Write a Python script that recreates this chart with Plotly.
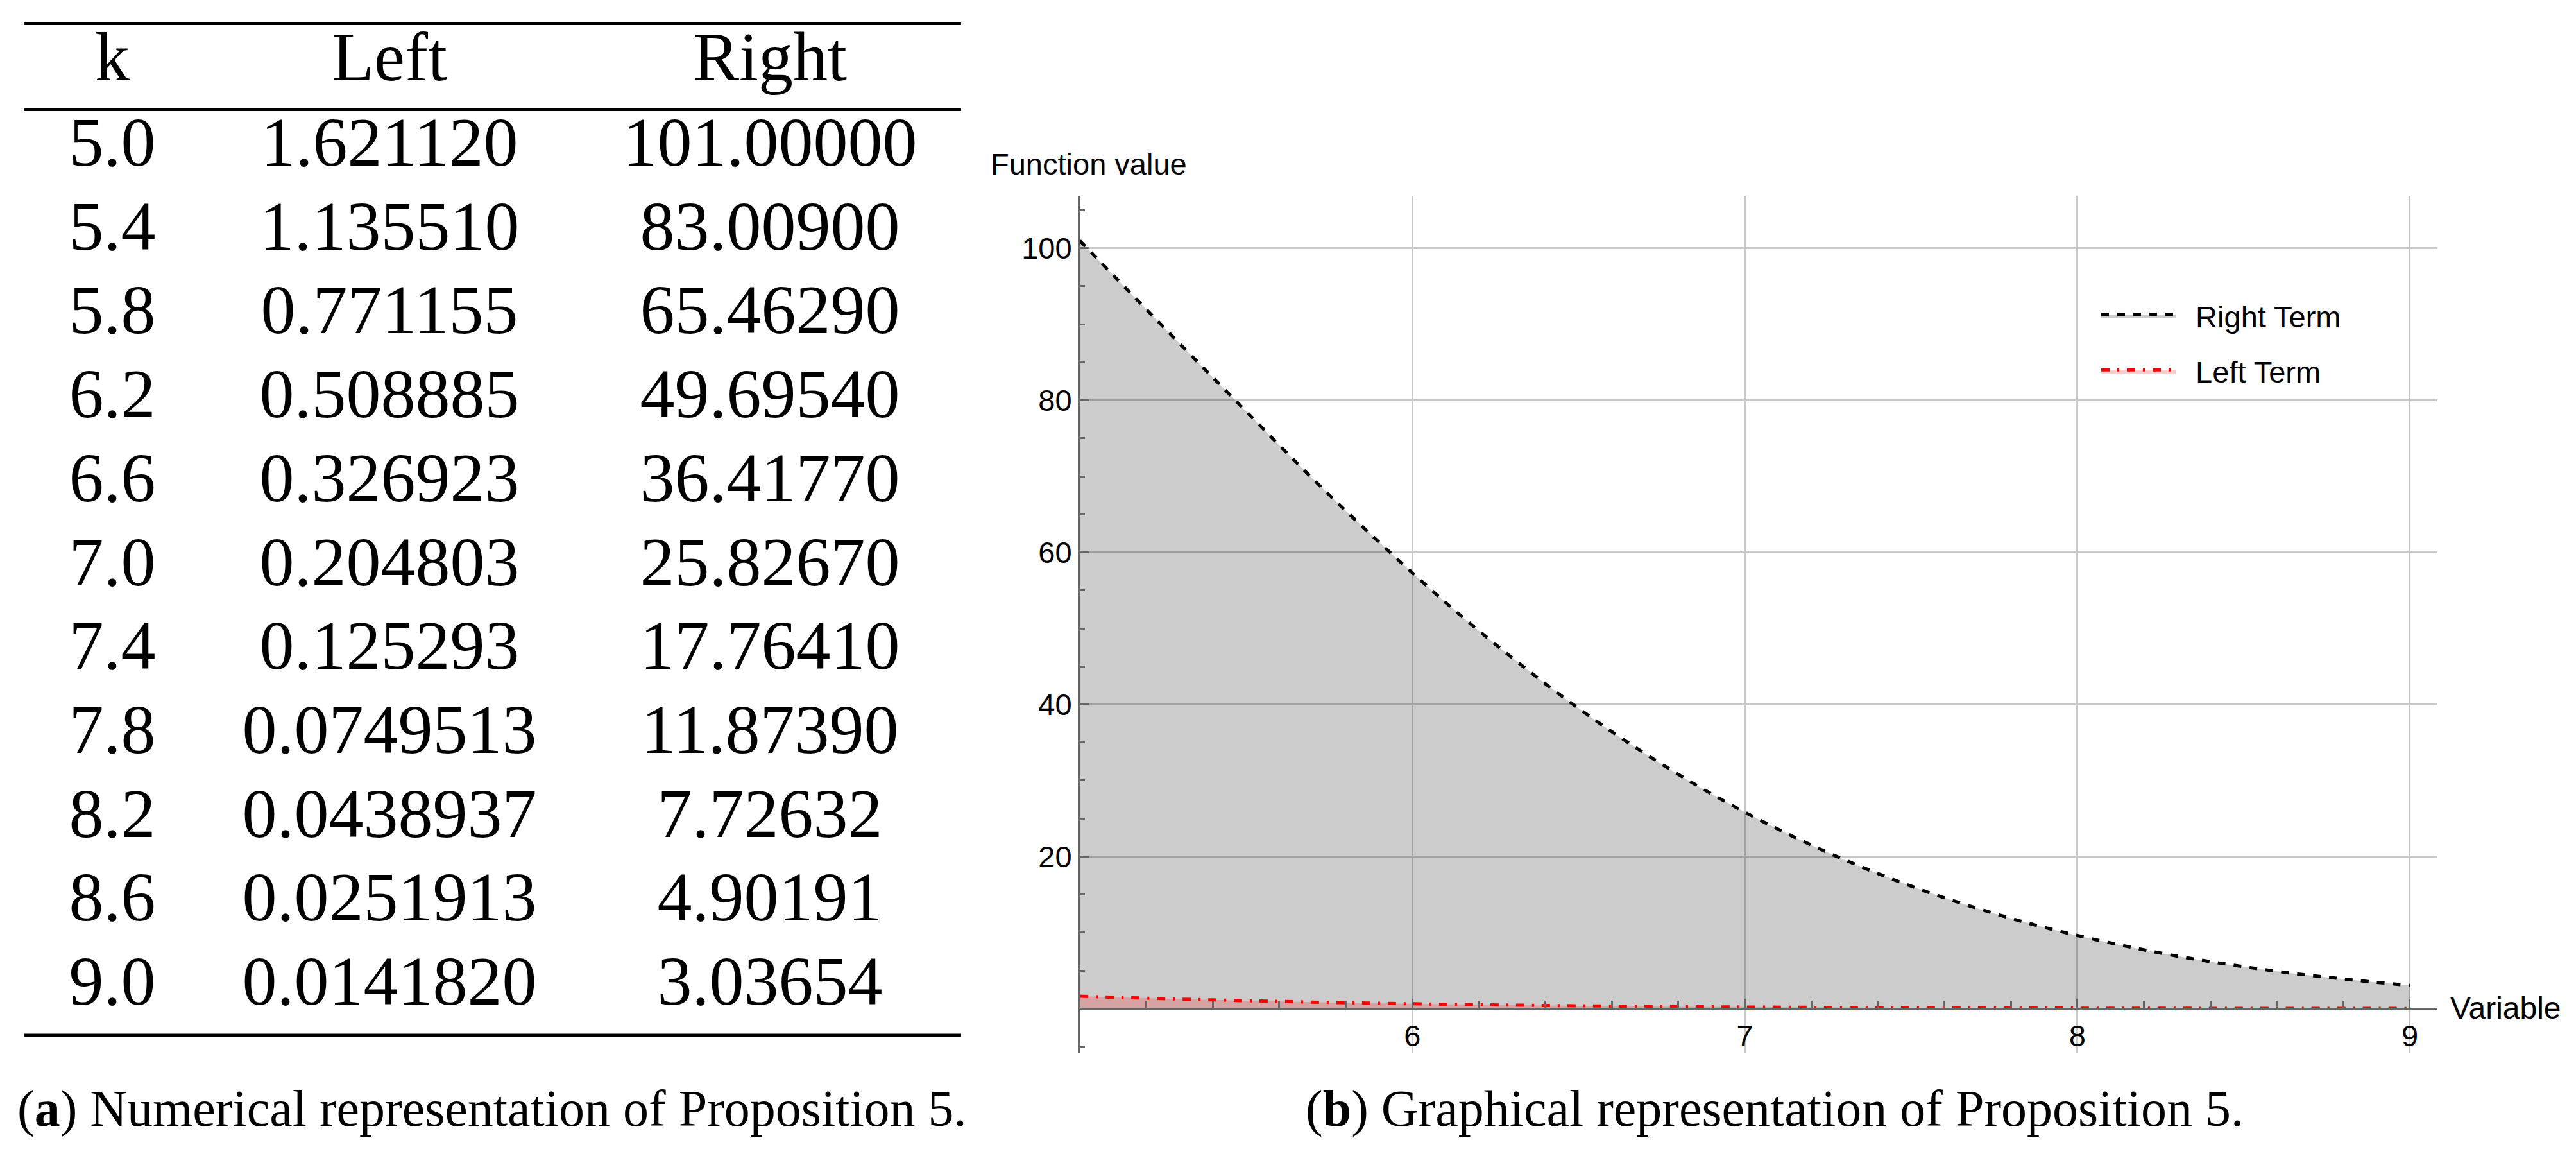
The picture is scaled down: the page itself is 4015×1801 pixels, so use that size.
import plotly.graph_objects as go

# ---- data ----
k_values = [5.0, 5.4, 5.8, 6.2, 6.6, 7.0, 7.4, 7.8, 8.2, 8.6, 9.0]
left_term = [1.621120, 1.135510, 0.771155, 0.508885, 0.326923, 0.204803,
             0.125293, 0.0749513, 0.0438937, 0.0251913, 0.0141820]
right_term = [101.00000, 83.00900, 65.46290, 49.69540, 36.41770, 25.82670,
              17.76410, 11.87390, 7.72632, 4.90191, 3.03654]

k_text = ["5.0", "5.4", "5.8", "6.2", "6.6", "7.0", "7.4", "7.8", "8.2", "8.6", "9.0"]
left_text = ["1.621120", "1.135510", "0.771155", "0.508885", "0.326923", "0.204803",
             "0.125293", "0.0749513", "0.0438937", "0.0251913", "0.0141820"]
right_text = ["101.00000", "83.00900", "65.46290", "49.69540", "36.41770", "25.82670",
              "17.76410", "11.87390", "7.72632", "4.90191", "3.03654"]
table_header = ["k", "Left", "Right"]

x_tickvals = [6, 7, 8, 9]
y_tickvals = [20, 40, 60, 80, 100]

W, H = 4015, 1801
OFF = 8  # page body margin

def px_x(p):
    return (p - OFF) / W

def px_y(p):
    return 1 - (p - OFF) / H

# chart geometry (pixels, page coordinates)
plot_left, plot_right = 1683, 3799
plot_top, plot_bottom = 305, 1640
y_range = [-5.8, 106.9]
x_range = [5.0, 9.083]
ydom = [px_y(plot_bottom), px_y(plot_top)]
xaxis_pos = ydom[0] + (0 - y_range[0]) / (y_range[1] - y_range[0]) * (ydom[1] - ydom[0])

sans = "Liberation Sans, Arial, sans-serif"
serif = "Liberation Serif, Times New Roman, serif"
fs = 47

fig = go.Figure()

# ---- table ----
fig.add_trace(go.Table(
    domain=dict(x=[px_x(38), px_x(1498)], y=[px_y(1613), px_y(36)]),
    columnwidth=[274, 590, 596],
    header=dict(values=table_header, height=133,
                font=dict(family=serif, size=108, color="black"),
                fill_color="white", line=dict(color="white", width=0),
                align="center"),
    cells=dict(values=[k_text, left_text, right_text], height=130.7,
               font=dict(family=serif, size=108, color="black"),
               fill_color="white", line=dict(color="white", width=0),
               align="center"),
))

# ---- chart ----
fig.add_trace(go.Scatter(
    x=k_values, y=right_term, name="\u00a0\u00a0Right Term", mode="lines",
    line=dict(color="black", width=5, dash="12px,13px", shape="spline"),
    fill="tozeroy", fillcolor="rgba(0,0,0,0.2)",
    legendgroup="r", hoverinfo="skip",
))
fig.add_trace(go.Scatter(
    x=k_values, y=left_term, name="\u00a0\u00a0Left Term", mode="lines",
    line=dict(color="red", width=5, dash="13px,12px,3px,12px", shape="spline"),
    fill="tozeroy", fillcolor="rgba(255,0,0,0.2)",
    legendgroup="l", hoverinfo="skip",
))

axis_col = "#666666"
grid_col = "#c8c8c8"

fig.update_layout(
    width=W, height=H,
    margin=dict(l=0, r=0, t=0, b=0),
    paper_bgcolor="white", plot_bgcolor="rgba(0,0,0,0)",
    font=dict(family=sans, size=fs, color="black"),
    xaxis=dict(
        domain=[px_x(plot_left), px_x(plot_right)],
        range=x_range, anchor="free", position=xaxis_pos,
        tickmode="array", tickvals=x_tickvals,
        showline=True, linecolor=axis_col, linewidth=3,
        ticks="inside", ticklen=14, tickwidth=3, tickcolor=axis_col,
        showgrid=True, gridcolor=grid_col, gridwidth=3,
        zeroline=False,
        tickfont=dict(family=sans, size=fs, color="black"),
        minor=dict(tickmode="linear", tick0=5, dtick=0.2, ticks="inside",
                   ticklen=11, tickwidth=3, tickcolor=axis_col, showgrid=False),
    ),
    yaxis=dict(
        domain=ydom, range=y_range, anchor="x",
        tickmode="array", tickvals=y_tickvals,
        showline=True, linecolor=axis_col, linewidth=3,
        ticks="inside", ticklen=14, tickwidth=3, tickcolor=axis_col,
        showgrid=True, gridcolor=grid_col, gridwidth=3,
        zeroline=False,
        tickfont=dict(family=sans, size=fs, color="black"),
        minor=dict(tickmode="linear", tick0=0, dtick=5, ticks="inside",
                   ticklen=8, tickwidth=3, tickcolor=axis_col, showgrid=False),
    ),
    showlegend=True,
    legend=dict(
        x=px_x(3270), y=px_y(455), xanchor="left", yanchor="top",
        bgcolor="rgba(0,0,0,0)", borderwidth=0,
        font=dict(family=sans, size=fs, color="black"),
        itemwidth=116, traceorder="grouped", tracegroupgap=22,
    ),
)

# ---- table rules ----
for yy, lw in [(37, 4), (171, 4), (1613, 5)]:
    fig.add_shape(type="line", xref="paper", yref="paper",
                  x0=px_x(38), x1=px_x(1498), y0=px_y(yy), y1=px_y(yy),
                  line=dict(color="black", width=lw))

# ---- labels ----
fig.add_annotation(text="Function value", xref="paper", yref="paper",
                   x=px_x(1542), y=px_y(284), xanchor="left", yanchor="bottom",
                   showarrow=False, font=dict(family=sans, size=fs, color="black"))
fig.add_annotation(text="Variable", xref="paper", yref="paper",
                   x=px_x(3817), y=px_y(1570), xanchor="left", yanchor="middle",
                   showarrow=False, font=dict(family=sans, size=48, color="black"))
fig.add_annotation(text="(<b>a</b>) Numerical representation of Proposition 5.",
                   xref="paper", yref="paper", x=px_x(767), y=px_y(1727),
                   xanchor="center", yanchor="middle", showarrow=False,
                   font=dict(family=serif, size=80, color="black"))
fig.add_annotation(text="(<b>b</b>) Graphical representation of Proposition 5.",
                   xref="paper", yref="paper", x=px_x(2766), y=px_y(1727),
                   xanchor="center", yanchor="middle", showarrow=False,
                   font=dict(family=serif, size=80, color="black"))

fig.write_html("out.html")
